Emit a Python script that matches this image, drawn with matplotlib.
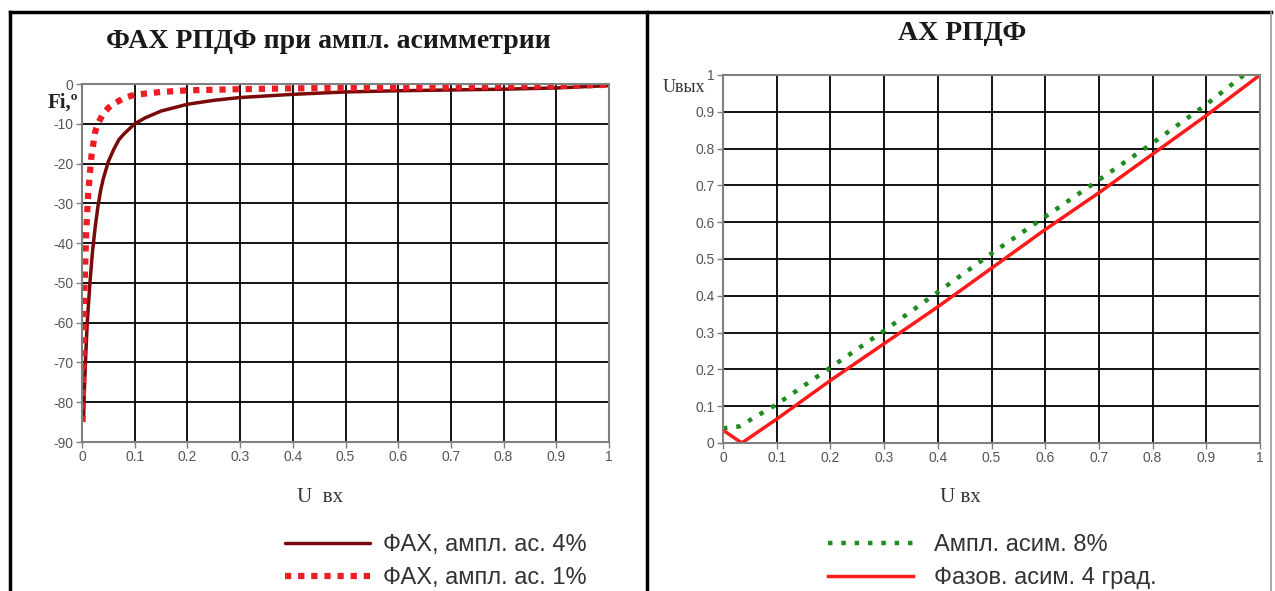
import matplotlib

matplotlib.use("Agg")
import matplotlib.pyplot as plt
from matplotlib.lines import Line2D

# left panel: phase response (degrees) vs input level
u_fax4 = [0.003, 0.005, 0.0075, 0.01, 0.015, 0.02, 0.025, 0.03, 0.035, 0.04, 0.05, 0.06,
          0.07, 0.08, 0.1, 0.12, 0.15, 0.2, 0.25, 0.3, 0.4, 0.5, 0.6, 0.7, 0.8, 0.9, 1.0]
fi_fax4 = [-84, -75, -67, -60, -50, -42, -36, -31, -27, -24, -19.5, -16.5,
           -14, -12.5, -10, -8.5, -6.8, -5.1, -4.1, -3.4, -2.6, -2.0, -1.7, -1.5, -1.3, -1.0, -0.4]
u_fax1 = [0.001, 0.002, 0.003, 0.005, 0.008, 0.012, 0.018, 0.025, 0.03, 0.04, 0.05, 0.06,
          0.08, 0.1, 0.15, 0.2, 0.3, 0.4, 0.5, 0.6, 0.7, 0.8, 0.9, 1.0]
fi_fax1 = [-85, -75, -65, -50, -37, -27, -18, -12, -10, -7.5, -6, -5,
           -3.5, -2.7, -2, -1.6, -1.3, -1.1, -1.0, -0.9, -0.8, -0.6, -0.5, -0.2]

# right panel: amplitude response
u_amp8 = [0.0, 0.03, 0.1, 0.2, 0.3, 0.4, 0.5, 0.6, 0.7, 0.8, 0.9, 0.97]
out_amp8 = [0.04, 0.045, 0.105, 0.205, 0.305, 0.41, 0.515, 0.615, 0.715, 0.815, 0.92, 1.0]
u_ph4 = [0.0, 0.035, 0.1, 0.2, 0.3, 0.4, 0.5, 0.6, 0.7, 0.8, 0.9, 1.0]
out_ph4 = [0.035, 0.0, 0.065, 0.17, 0.27, 0.37, 0.475, 0.58, 0.68, 0.785, 0.89, 1.0]

x_ticks = [0, 0.1, 0.2, 0.3, 0.4, 0.5, 0.6, 0.7, 0.8, 0.9, 1]
x_ticklabels = ["0", "0.1", "0.2", "0.3", "0.4", "0.5", "0.6", "0.7", "0.8", "0.9", "1"]
fi_ticks = [0, -10, -20, -30, -40, -50, -60, -70, -80, -90]
out_ticks = [0, 0.1, 0.2, 0.3, 0.4, 0.5, 0.6, 0.7, 0.8, 0.9, 1]
out_ticklabels = ["0", "0.1", "0.2", "0.3", "0.4", "0.5", "0.6", "0.7", "0.8", "0.9", "1"]

W, H = 1275, 591
SERIF = ["Liberation Serif", "DejaVu Serif"]
SANS = ["Liberation Sans", "DejaVu Sans"]
TICK_COLOR = "#555555"
LEG_SIZE = 17

fig = plt.figure(figsize=(W / 100, H / 100), dpi=100)
fig.patch.set_facecolor("white")


def style_axes(ax):
    ax.set_xlim(0, 1)
    ax.set_xticks(x_ticks)
    ax.set_xticklabels(x_ticklabels)
    ax.grid(True, color="black", linewidth=1.3)
    ax.set_axisbelow(True)
    for sp in ax.spines.values():
        sp.set_color("#808080")
        sp.set_linewidth(1.5)
    ax.tick_params(length=4, width=1, color="#808080", labelcolor=TICK_COLOR,
                   labelsize=10, pad=2)
    for lab in ax.get_xticklabels() + ax.get_yticklabels():
        lab.set_family(SANS)


# ---- left panel
ax1 = fig.add_axes([82 / W, 1 - 442 / H, 527 / W, 358 / H])
l4, = ax1.plot(u_fax4, fi_fax4, color="#7a0a0a", linewidth=2.5, solid_capstyle="round")
l1, = ax1.plot(u_fax1, fi_fax1, color="#ee1c24", linewidth=4.5, linestyle=(0, (1, 1.1)),
               dash_capstyle="butt")
ax1.set_ylim(-90, 0)
ax1.set_yticks(fi_ticks)
ax1.set_yticklabels([str(t) for t in fi_ticks])
style_axes(ax1)
ax1.text(-0.008, 0.947, "Fi,º", transform=ax1.transAxes, ha="right", va="center",
         fontsize=15, fontweight="bold", family=SERIF, color="#222222")

fig.text(328 / W, 1 - 42 / H, "ФАХ РПДФ при ампл. асимметрии", ha="center", va="center",
         fontsize=20, fontweight="bold", family=SERIF, color="#1a1a1a")
fig.text(320 / W, 1 - 497 / H, "U  вх", ha="center", va="center",
         fontsize=15, family=SERIF, color="#333333")
fig.legend([l4, l1], ["ФАХ, ампл. ас. 4%", "ФАХ, ампл. ас. 1%"],
           loc="upper left", bbox_to_anchor=(276 / W, 1 - 525 / H), frameon=False,
           prop={"family": SANS, "size": LEG_SIZE}, handlelength=3.6, handletextpad=0.55,
           labelspacing=0.45, borderaxespad=0, labelcolor="#333333")

# ---- right panel
ax2 = fig.add_axes([723 / W, 1 - 443 / H, 537 / W, 368 / H])
g8, = ax2.plot(u_amp8, out_amp8, color="#1e8c1e", linewidth=3.2, linestyle=(0, (1, 2.0)),
               dash_capstyle="butt")
r4, = ax2.plot(u_ph4, out_ph4, color="#ff1a1a", linewidth=2.5)
ax2.set_ylim(0, 1)
ax2.set_yticks(out_ticks)
ax2.set_yticklabels(out_ticklabels)
style_axes(ax2)
ax2.text(-0.034, 0.965, "Uвых", transform=ax2.transAxes, ha="right", va="center",
         fontsize=13, family=SERIF, color="#333333")

fig.text(962 / W, 1 - 34 / H, "АХ РПДФ", ha="center", va="center",
         fontsize=20, fontweight="bold", family=SERIF, color="#1a1a1a")
fig.text(960 / W, 1 - 497 / H, "U вх", ha="center", va="center",
         fontsize=15, family=SERIF, color="#333333")
fig.legend([g8, r4], ["Ампл. асим. 8%", "Фазов. асим. 4 град."],
           loc="upper left", bbox_to_anchor=(819 / W, 1 - 525 / H), frameon=False,
           prop={"family": SANS, "size": LEG_SIZE}, handlelength=3.6, handletextpad=0.85,
           labelspacing=0.45, borderaxespad=0, labelcolor="#333333")

# table-like border around both panels
border = dict(color="black", linewidth=2.5, transform=fig.transFigure)
fig.add_artist(Line2D([10 / W, 1271 / W], [1 - 12 / H, 1 - 12 / H], **border))
fig.add_artist(Line2D([10 / W, 10 / W], [0, 1 - 12 / H], **border))
fig.add_artist(Line2D([647 / W, 647 / W], [0, 1 - 12 / H], **border))
fig.add_artist(Line2D([1271 / W, 1271 / W], [0, 1 - 12 / H], color="#999999",
                      linewidth=1.2, transform=fig.transFigure))

fig.savefig("out.png", dpi=100)
plt.close(fig)
